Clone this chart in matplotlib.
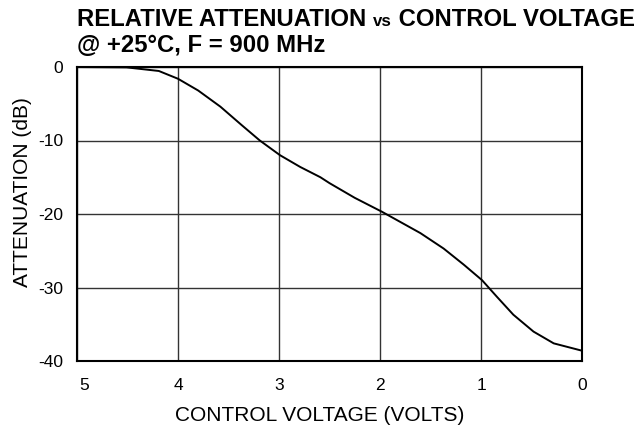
import matplotlib
matplotlib.use("Agg")
import matplotlib.pyplot as plt
from matplotlib.transforms import ScaledTranslation

plt.rcParams['font.family'] = ['Liberation Sans', 'DejaVu Sans']

volts = [5.0, 4.51, 4.19, 4.0, 3.8, 3.58, 3.37, 3.19, 2.99, 2.79, 2.59, 2.50, 2.25,
         1.98, 1.60, 1.37, 1.17, 0.99, 0.84, 0.68, 0.48, 0.28, 0.0]
atten = [0.0, -0.05, -0.54, -1.6, -3.2, -5.4, -7.9, -10.0, -12.0, -13.6, -15.0, -15.8, -17.8,
         -19.7, -22.6, -24.7, -26.9, -29.0, -31.3, -33.7, -36.0, -37.6, -38.6]
xticks = [5, 4, 3, 2, 1, 0]
yticks = [0, -10, -20, -30, -40]

fig = plt.figure(figsize=(6.39, 4.30), dpi=100)
ax = fig.add_axes([77/639, 1-361/430, 505/639, 294/430])
ax.plot(volts, atten, color='black', lw=1.4)
ax.set_xlim(5, 0)
ax.set_ylim(-40, 0)
ax.set_xticks(xticks)
ax.set_yticks(yticks)
ax.set_xticklabels([str(t) for t in xticks])
ax.set_yticklabels([str(t) for t in yticks])
ax.grid(True, color='#333333', lw=1.0)
for s in ax.spines.values():
    s.set_linewidth(1.5)
    s.set_color('black')
ax.tick_params(length=0, labelsize=12.5)
ax.tick_params(axis='y', pad=10)
ax.tick_params(axis='x', pad=12)
lab0 = ax.get_xticklabels()[0]
lab0.set_transform(lab0.get_transform() + ScaledTranslation(7/100, 0, fig.dpi_scale_trans))
ax.set_xlabel('CONTROL VOLTAGE (VOLTS)', fontsize=15)
ax.set_ylabel('ATTENUATION (dB)', fontsize=15)
ax.xaxis.set_label_coords(0.481, -0.187)
ax.xaxis.label.set_va('center')
ax.yaxis.set_label_coords(-0.108, 0.575)
ax.yaxis.label.set_va('center')

y1 = 1 - 25.7/430
y2 = 1 - 52.5/430
x0 = 77/639
fs = 17.2
t1 = fig.text(x0, y1, 'RELATIVE ATTENUATION ', fontsize=fs, fontweight='bold', va='baseline')
t2 = fig.text(0, y1, 'vs', fontsize=fs*0.7, fontweight='bold', va='baseline')
t3 = fig.text(0, y1, ' CONTROL VOLTAGE', fontsize=fs, fontweight='bold', va='baseline')
fig.canvas.draw()
r = fig.canvas.get_renderer()
bb = t1.get_window_extent(r)
t2.set_x(bb.x1 / fig.bbox.width)
bb2 = t2.get_window_extent(r)
t3.set_x(bb2.x1 / fig.bbox.width)
fig.text(x0, y2, '@ +25°C, F = 900 MHz', fontsize=fs, fontweight='bold', va='baseline')

fig.savefig('out.png', dpi=100)
